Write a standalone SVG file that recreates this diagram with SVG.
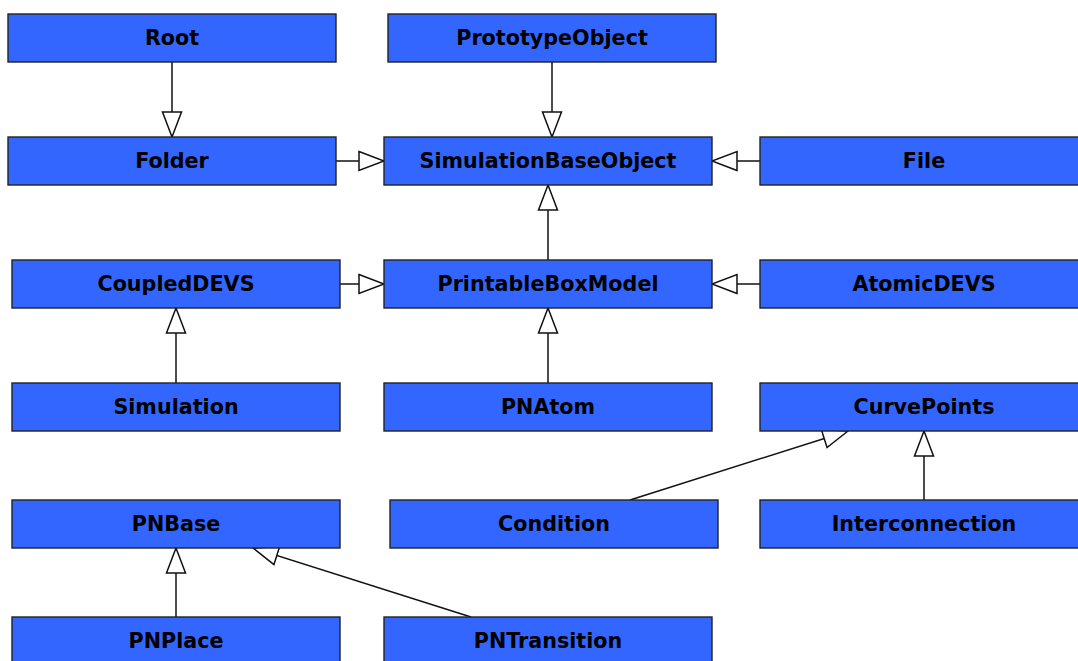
<svg xmlns="http://www.w3.org/2000/svg" width="1078" height="661" viewBox="0 0 1078 661">
<style>
.box{fill:#3366ff;stroke:#222;stroke-width:1.4}
.lbl{font-family:"DejaVu Sans",sans-serif;font-weight:bold;font-size:20.7px;fill:#000;text-anchor:middle}
.edge{stroke:#111;stroke-width:1.5;fill:none;marker-end:url(#tri)}
</style>
<defs>
<marker id="tri" markerUnits="userSpaceOnUse" viewBox="0 0 28 22" markerWidth="28" markerHeight="22" refX="26" refY="11" orient="auto">
<path d="M1,1.5 L26,11 L1,20.5 Z" fill="#fff" stroke="#111" stroke-width="1.5"/>
</marker>
</defs>
<rect width="1078" height="661" fill="#fff"/>
<g id="connectors">
<line class="edge" x1="172" y1="62" x2="172" y2="137"/>
<line class="edge" x1="552" y1="62" x2="552" y2="137"/>
<line class="edge" x1="336" y1="161" x2="384" y2="161"/>
<line class="edge" x1="760" y1="161" x2="712" y2="161"/>
<line class="edge" x1="548" y1="260" x2="548" y2="185"/>
<line class="edge" x1="340" y1="284" x2="384" y2="284"/>
<line class="edge" x1="760" y1="284" x2="712" y2="284"/>
<line class="edge" x1="176" y1="383" x2="176" y2="308"/>
<line class="edge" x1="548" y1="383" x2="548" y2="308"/>
<line class="edge" x1="630" y1="500" x2="848" y2="431"/>
<line class="edge" x1="924" y1="500" x2="924" y2="431"/>
<line class="edge" x1="176" y1="617" x2="176" y2="548"/>
<line class="edge" x1="471" y1="617" x2="253" y2="548"/>
</g>
<g id="Root"><rect class="box" x="8" y="14" width="328" height="48"/><text class="lbl" x="172" y="45">Root</text></g>
<g id="PrototypeObject"><rect class="box" x="388" y="14" width="328" height="48"/><text class="lbl" x="552" y="45">PrototypeObject</text></g>
<g id="Folder"><rect class="box" x="8" y="137" width="328" height="48"/><text class="lbl" x="172" y="168">Folder</text></g>
<g id="SimulationBaseObject"><rect class="box" x="384" y="137" width="328" height="48"/><text class="lbl" x="548" y="168">SimulationBaseObject</text></g>
<g id="File"><rect class="box" x="760" y="137" width="328" height="48"/><text class="lbl" x="924" y="168">File</text></g>
<g id="CoupledDEVS"><rect class="box" x="12" y="260" width="328" height="48"/><text class="lbl" x="176" y="291">CoupledDEVS</text></g>
<g id="PrintableBoxModel"><rect class="box" x="384" y="260" width="328" height="48"/><text class="lbl" x="548" y="291">PrintableBoxModel</text></g>
<g id="AtomicDEVS"><rect class="box" x="760" y="260" width="328" height="48"/><text class="lbl" x="924" y="291">AtomicDEVS</text></g>
<g id="Simulation"><rect class="box" x="12" y="383" width="328" height="48"/><text class="lbl" x="176" y="414">Simulation</text></g>
<g id="PNAtom"><rect class="box" x="384" y="383" width="328" height="48"/><text class="lbl" x="548" y="414">PNAtom</text></g>
<g id="CurvePoints"><rect class="box" x="760" y="383" width="328" height="48"/><text class="lbl" x="924" y="414">CurvePoints</text></g>
<g id="PNBase"><rect class="box" x="12" y="500" width="328" height="48"/><text class="lbl" x="176" y="531">PNBase</text></g>
<g id="Condition"><rect class="box" x="390" y="500" width="328" height="48"/><text class="lbl" x="554" y="531">Condition</text></g>
<g id="Interconnection"><rect class="box" x="760" y="500" width="328" height="48"/><text class="lbl" x="924" y="531">Interconnection</text></g>
<g id="PNPlace"><rect class="box" x="12" y="617" width="328" height="48"/><text class="lbl" x="176" y="648">PNPlace</text></g>
<g id="PNTransition"><rect class="box" x="384" y="617" width="328" height="48"/><text class="lbl" x="548" y="648">PNTransition</text></g>
</svg>
